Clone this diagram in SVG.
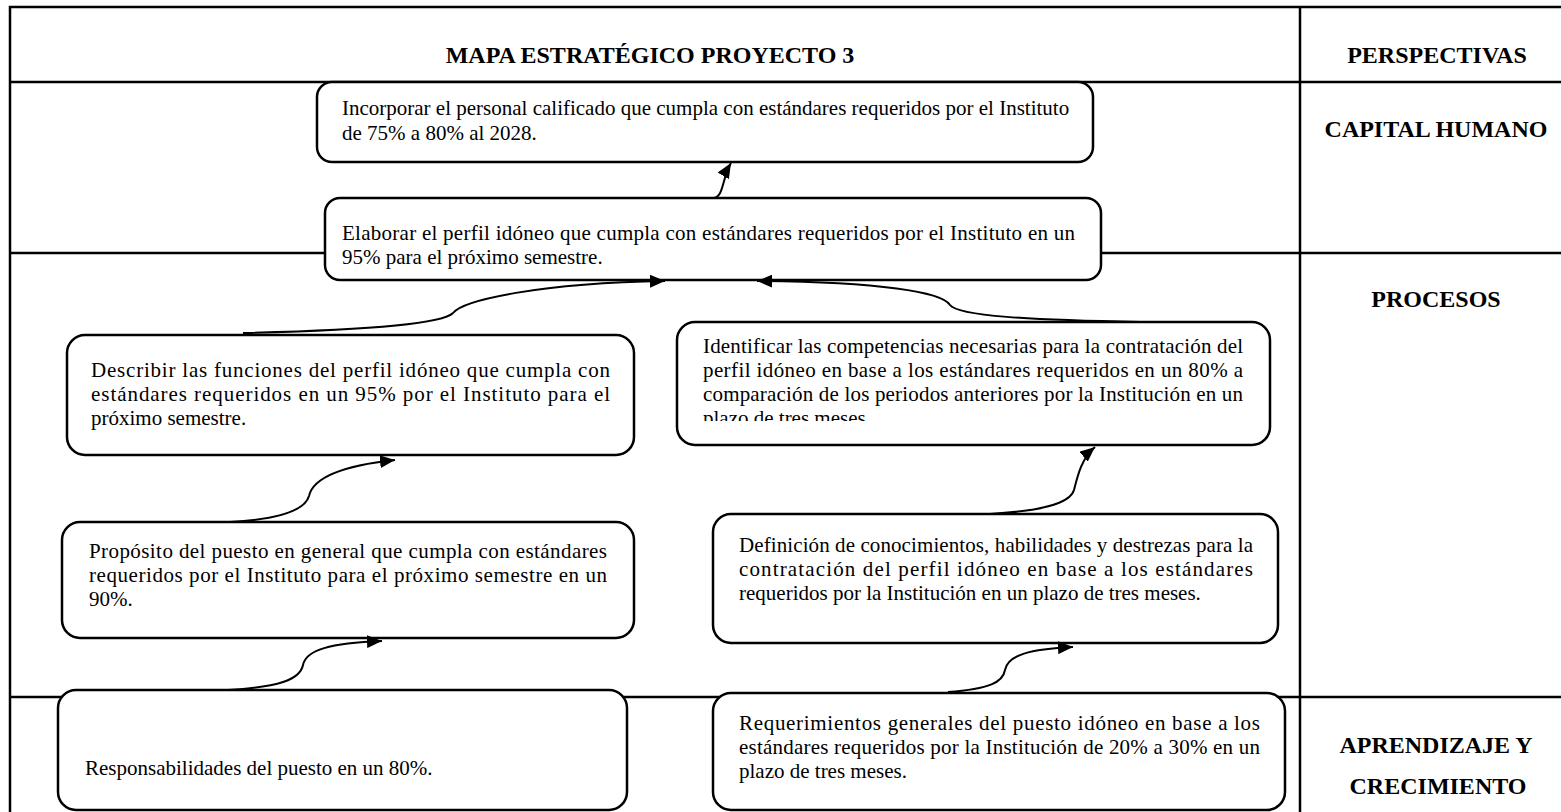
<svg xmlns="http://www.w3.org/2000/svg" width="1561" height="812" viewBox="0 0 1561 812">
  <defs>
    <style>
      .grid { stroke: #000; stroke-width: 2.5; fill: none; }
      .box { fill: #fff; stroke: #000; stroke-width: 2.5; }
      .txt { font-family: "Liberation Serif", "Times New Roman", serif; font-size: 21px; fill: #000; }
      .hdr { font-family: "Liberation Serif", "Times New Roman", serif; font-size: 24px; font-weight: bold; fill: #000; text-anchor: middle; }
      .link { fill: none; stroke: #000; stroke-width: 2; marker-end: url(#ah); }
    </style>
    <marker id="ah" markerUnits="userSpaceOnUse" markerWidth="16" markerHeight="13" refX="15" refY="6.5" orient="auto">
      <path d="M0,0 L15,6.5 L0,13 Z" fill="#000"/>
    </marker>
    <!-- the last line of the "Identificar" box is cut by the box interior -->
    <clipPath id="clipIdent">
      <rect x="677" y="322" width="593" height="99"/>
    </clipPath>
  </defs>

  <rect width="1561" height="812" fill="#fff"/>

  <!-- table frame -->
  <g id="table">
    <path class="grid" d="M10,812 V7 H1561"/>
    <path class="grid" d="M10,82 H1561"/>
    <path class="grid" d="M1300,7 V812"/>
    <path class="grid" d="M10,253 H1561"/>
    <path class="grid" d="M10,697 H1561"/>
    <text class="hdr" x="650" y="63">MAPA ESTRATÉGICO PROYECTO 3</text>
    <text class="hdr" x="1437" y="63">PERSPECTIVAS</text>
    <text class="hdr" x="1436" y="137">CAPITAL HUMANO</text>
    <text class="hdr" x="1436" y="307">PROCESOS</text>
    <text class="hdr" x="1436" y="753">APRENDIZAJE Y</text>
    <text class="hdr" x="1438" y="794">CRECIMIENTO</text>
  </g>

  <g id="n-incorporar">
    <rect class="box" x="317" y="82" width="776" height="80" rx="15"/>
    <text class="txt" x="342" y="115">Incorporar el personal calificado que cumpla con estándares requeridos por el Instituto</text>
    <text class="txt" x="342" y="140">de 75% a 80% al 2028.</text>
  </g>

  <g id="n-elaborar">
    <rect class="box" x="325" y="198" width="776" height="82" rx="15"/>
    <text class="txt" x="342" y="240" textLength="733" lengthAdjust="spacing">Elaborar el perfil idóneo que cumpla con estándares requeridos por el Instituto en un</text>
    <text class="txt" x="342" y="264">95% para el próximo semestre.</text>
  </g>

  <g id="n-describir">
    <rect class="box" x="67" y="335" width="567" height="120" rx="18"/>
    <text class="txt" x="91" y="377" textLength="519" lengthAdjust="spacing">Describir las funciones del perfil idóneo que cumpla con</text>
    <text class="txt" x="91" y="401" textLength="519" lengthAdjust="spacing">estándares requeridos en un 95% por el Instituto para el</text>
    <text class="txt" x="91" y="425">próximo semestre.</text>
  </g>

  <g id="n-identificar">
    <rect class="box" x="677" y="322" width="593" height="123" rx="18"/>
    <text class="txt" x="703" y="353" textLength="540" lengthAdjust="spacing">Identificar las competencias necesarias para la contratación del</text>
    <text class="txt" x="703" y="377" textLength="540" lengthAdjust="spacing">perfil idóneo en base a los estándares requeridos en un 80% a</text>
    <text class="txt" x="703" y="401" textLength="540" lengthAdjust="spacing">comparación de los periodos anteriores por la Institución en un</text>
    <text class="txt" x="703" y="425" clip-path="url(#clipIdent)">plazo de tres meses.</text>
  </g>

  <g id="n-proposito">
    <rect class="box" x="62" y="522" width="572" height="116" rx="18"/>
    <text class="txt" x="89" y="558" textLength="518" lengthAdjust="spacing">Propósito del puesto en general que cumpla con estándares</text>
    <text class="txt" x="89" y="582" textLength="518" lengthAdjust="spacing">requeridos por el Instituto para el próximo semestre en un</text>
    <text class="txt" x="89" y="606">90%.</text>
  </g>

  <g id="n-definicion">
    <rect class="box" x="713" y="514" width="565" height="129" rx="18"/>
    <text class="txt" x="739" y="552" textLength="514" lengthAdjust="spacing">Definición de conocimientos, habilidades y destrezas para la</text>
    <text class="txt" x="739" y="576" textLength="514" lengthAdjust="spacing">contratación del perfil idóneo en base a los estándares</text>
    <text class="txt" x="739" y="600">requeridos por la Institución en un plazo de tres meses.</text>
  </g>

  <g id="n-responsabilidades">
    <rect class="box" x="58" y="690" width="569" height="120" rx="18"/>
    <text class="txt" x="85" y="775">Responsabilidades del puesto en un 80%.</text>
  </g>

  <g id="n-requerimientos">
    <rect class="box" x="713" y="693" width="572" height="117" rx="18"/>
    <text class="txt" x="739" y="730" textLength="521" lengthAdjust="spacing">Requerimientos generales del puesto idóneo en base a los</text>
    <text class="txt" x="739" y="754" textLength="521" lengthAdjust="spacing">estándares requeridos por la Institución de 20% a 30% en un</text>
    <text class="txt" x="739" y="778">plazo de tres meses.</text>
  </g>

  <!-- connectors: curved links ending in filled arrowheads -->
  <g id="connectors">
    <path class="link" d="M714,198 C724,196 722,178 731,163"/>
    <path class="link" d="M243,333 C330,331 440,326 453,313 C463,300 540,283 665,281"/>
    <path class="link" d="M1140,322 C1030,320 958,316 950,305 C942,292 880,282 757,281"/>
    <path class="link" d="M230,522 C282,519 305,510 309,496 C313,478 340,466 395,460"/>
    <path class="link" d="M228,690 C278,687 300,680 303,665 C306,650 330,643 382,641"/>
    <path class="link" d="M990,514 C1040,511 1070,504 1074,490 C1078,474 1082,458 1095,447"/>
    <path class="link" d="M948,692 C990,689 1003,682 1005,670 C1008,655 1030,649 1073,647"/>
  </g>
</svg>
